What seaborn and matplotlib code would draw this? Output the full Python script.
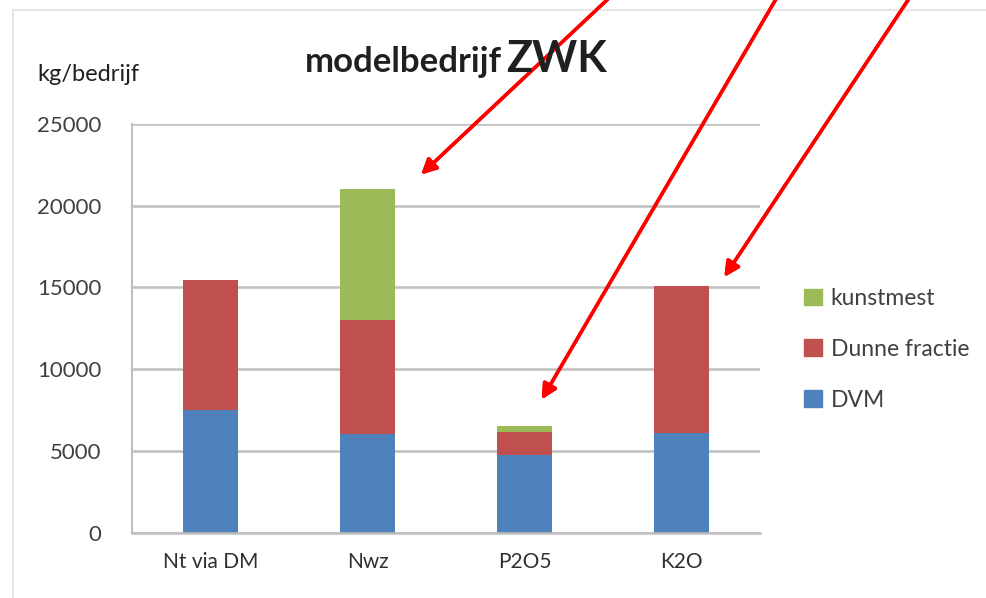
import numpy as np
import pandas as pd
import matplotlib.pyplot as plt
import seaborn as sns
from matplotlib.patches import Rectangle, Patch

# data (kg/bedrijf)
categories = ['Nt via DM', 'Nwz', 'P2O5', 'K2O']
dvm = [7500, 6050, 4770, 6130]
dunne_fractie = [7950, 6950, 1400, 8950]
kunstmest = [0, 8000, 330, 0]
yticks = [0, 5000, 10000, 15000, 20000, 25000]

blue = '#4f81bd'
red = '#c0504d'
green = '#9bbb59'

sns.set_style('white')
plt.rcParams['font.family'] = ['Lato', 'DejaVu Sans']

df = pd.DataFrame({'cat': categories, 'DVM': dvm,
                   'Dunne fractie': dunne_fractie, 'kunstmest': kunstmest})
df['base2'] = df['DVM'] + df['Dunne fractie']

fig = plt.figure(figsize=(9.86, 5.98), dpi=100)
ax = fig.add_axes([0.134, 0.109, 0.637, 0.684])

bar_kw = dict(width=0.35, saturation=1, linewidth=0, legend=False, ax=ax)
sns.barplot(data=df, x='cat', y='DVM', color=blue, **bar_kw)
sns.barplot(data=df, x='cat', y='Dunne fractie', bottom=df['DVM'], color=red, **bar_kw)
sns.barplot(data=df, x='cat', y='kunstmest', bottom=df['base2'], color=green, **bar_kw)

ax.set_ylim(0, 25000)
ax.set_xlim(-0.5, 3.5)
ax.set_yticks(yticks)
ax.set_yticklabels([str(t) for t in yticks])
ax.set_xlabel('')
ax.set_ylabel('')
ax.yaxis.grid(True, color='#bfbfbf', linewidth=1.8)
ax.set_axisbelow(True)
for s in ['top', 'right']:
    ax.spines[s].set_visible(False)
ax.spines['left'].set_color('#bfbfbf')
ax.spines['bottom'].set_color('#bfbfbf')
ax.spines['left'].set_linewidth(1.5)
ax.spines['bottom'].set_linewidth(1.8)
ax.tick_params(axis='y', length=8, color='#bfbfbf', width=1.8,
               labelsize=16, labelcolor='#404040', pad=14)
# category ticks sit between the bars, like in Excel
ax.set_xticks(np.arange(4))
ax.set_xticks(np.arange(-0.5, 4.0, 1.0), minor=True)
ax.tick_params(axis='x', which='major', length=0, labelsize=15,
               labelcolor='#303030', pad=14)
ax.tick_params(axis='x', which='minor', length=6, color='#bfbfbf', width=1.5)

handles = [Patch(color=green, label='kunstmest'),
           Patch(color=red, label='Dunne fractie'),
           Patch(color=blue, label='DVM')]
leg = fig.legend(handles=handles, loc='upper left',
                 bbox_to_anchor=(0.795, 0.553), frameon=False, fontsize=16.5,
                 handlelength=0.75, handleheight=0.75, labelspacing=1.3,
                 handletextpad=0.4)
for t in leg.get_texts():
    t.set_color('#404040')

fig.text(0.038, 0.865, 'kg/bedrijf', fontsize=17, color='#202020')
t1 = fig.text(0.309, 0.88, 'modelbedrijf', fontsize=25, fontweight='bold',
              color='#202020')
fig.canvas.draw()
bb = t1.get_window_extent().transformed(fig.transFigure.inverted())
fig.text(bb.x1 + 0.005, 0.88, 'ZWK', fontsize=31, fontweight='bold',
         color='#202020')

# outer chart frame
fig.patches.append(Rectangle((0.013, -0.1), 1.2, 1.083, transform=fig.transFigure,
                             fill=False, edgecolor='#e6e6e6', linewidth=1.5))

# red arrows coming in from above
arrows = [((0.622, 1.01), (0.425, 0.705)),
          ((0.79, 1.01), (0.548, 0.328)),
          ((0.925, 1.01), (0.733, 0.533))]
for start, end in arrows:
    fig.add_artist(plt.annotate('', xy=end, xytext=start, xycoords='figure fraction',
                                textcoords='figure fraction',
                                arrowprops=dict(arrowstyle='-|>,head_length=0.9,head_width=0.45',
                                                color='#ff0000', lw=2.5)))

fig.savefig('out.png', dpi=100)
